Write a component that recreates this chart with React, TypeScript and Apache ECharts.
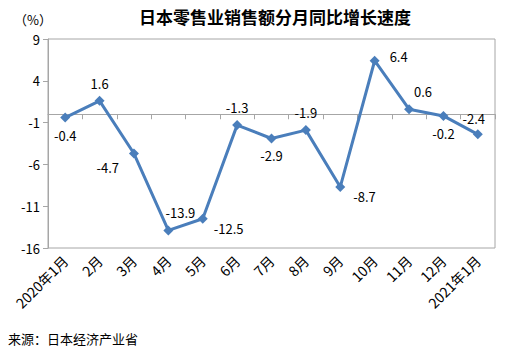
import React, { useEffect, useRef } from "react";
import * as echarts from "echarts";

const categories = ["2020年1月", "2月", "3月", "4月", "5月", "6月", "7月", "8月", "9月", "10月", "11月", "12月", "2021年1月"];
const values = [-0.4, 1.6, -4.7, -13.9, -12.5, -1.3, -2.9, -1.9, -8.7, 6.4, 0.6, -0.2, -2.4];
const labelPositions = ["bottom", "top", "left", "top", "right", "top", "bottom", "top", "right", "right", "top", "bottom", "top"];
const labelOffsets = [[0, 0], [0, 0], [-4, 14], [12, 0], [0, 10], [0, 0], [0, 0], [0, 0], [2, 10], [4, -4], [14, 0], [0, 0], [-4, 2]];

const title = "日本零售业销售额分月同比增长速度";
const unitText = "（%）";
const sourceText = "来源：日本经济产业省";

export default function App() {
  const ref = useRef<HTMLDivElement>(null);
  useEffect(() => {
    if (!ref.current) return;
    const chart = echarts.init(ref.current, null, { renderer: "svg" });
    const font = "'Noto Sans CJK SC', 'Microsoft YaHei', sans-serif";
    chart.setOption({
      animation: false,
      textStyle: { fontFamily: font },
      title: {
        text: title,
        left: 270,
        textAlign: "center",
        top: 3,
        textStyle: { fontSize: 17, fontWeight: "bold", color: "#000", fontFamily: font },
      },
      graphic: [
        { type: "text", left: 14, top: 13, style: { text: unitText, fontSize: 13, fill: "#000", fontFamily: font } },
        { type: "text", left: 8, top: 332, style: { text: sourceText, fontSize: 13, fill: "#000", fontFamily: font } },
        {
          type: "rect",
          shape: { x: 48, y: 39, width: 447, height: 209 },
          style: { fill: "none", stroke: "#a6a6a6", lineWidth: 1 },
          silent: true,
          z: 0,
        },
      ],
      grid: { left: 48, right: 19, top: 39, bottom: 107 },
      xAxis: {
        type: "category",
        data: categories,
        boundaryGap: true,
        axisLine: { lineStyle: { color: "#a6a6a6" } },
        axisTick: { show: true, alignWithLabel: false, length: 5, lineStyle: { color: "#a6a6a6" } },
        axisLabel: { rotate: 45, color: "#000", fontSize: 14, margin: 10, interval: 0, fontFamily: font },
      },
      yAxis: {
        type: "value",
        min: -16,
        max: 9,
        interval: 5,
        axisLine: { show: true, lineStyle: { color: "#a6a6a6" } },
        axisTick: { show: true, length: 5, lineStyle: { color: "#a6a6a6" } },
        axisLabel: { color: "#000", fontSize: 13, margin: 8, fontFamily: font },
        splitLine: { show: false },
      },
      series: [
        {
          type: "line",
          data: values.map((v, i) => ({
            value: v,
            label: { position: labelPositions[i], offset: labelOffsets[i] },
          })),
          lineStyle: { color: "#4a7ebb", width: 3 },
          itemStyle: { color: "#4a7ebb" },
          symbol: "diamond",
          symbolSize: 10,
          label: { show: true, color: "#000", fontSize: 13, distance: 6, fontFamily: font },
        },
      ],
    });
    return () => chart.dispose();
  }, []);
  return <div ref={ref} style={{ width: 514, height: 355, position: "absolute", left: 0, top: 0 }} />;
}
